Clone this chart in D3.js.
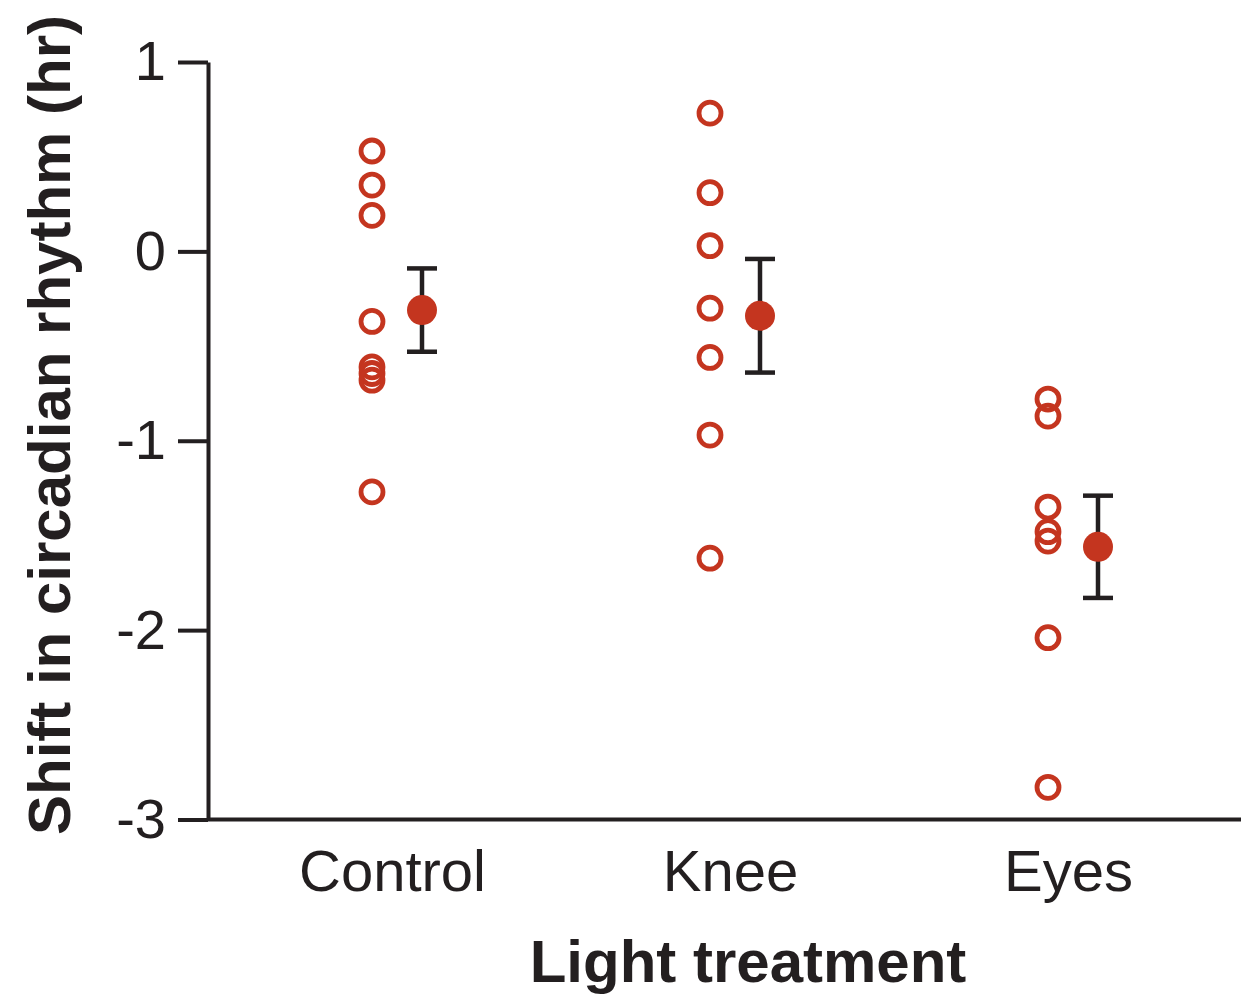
<!DOCTYPE html>
<html>
<head>
<meta charset="utf-8">
<script src="https://cdn.jsdelivr.net/npm/d3@7"></script>
<style>
  body { margin: 0; background: #fff; }
  svg { display: block; font-family: "Liberation Sans", Arial, sans-serif; }
</style>
</head>
<body>
<div id="chart"></div>
<script>
// data
const categories = ['Control', 'Knee', 'Eyes'];
const controlShifts = [0.53, 0.35, 0.19, -0.37, -0.61, -0.645, -0.68, -1.27];
const kneeShifts = [0.73, 0.31, 0.03, -0.30, -0.56, -0.97, -1.62];
const eyesShifts = [-0.78, -0.87, -1.35, -1.48, -1.53, -2.04, -2.83];
const means = [-0.31, -0.34, -1.56];
const sems = [0.22, 0.30, 0.27];
const yTicks = [1, 0, -1, -2, -3];

const W = 1249, H = 996;
const red = '#c4351f';
const ink = '#231f20';

const svg = d3.select('#chart').append('svg')
  .attr('width', W)
  .attr('height', H);

const y = d3.scaleLinear().domain([-3, 1]).range([819.5, 62]);
const x = d3.scalePoint().domain(categories).range([397, 1073]);
const axisX = 208;

// y axis
const yAxis = svg.append('g')
  .attr('transform', `translate(${axisX},0)`)
  .call(d3.axisLeft(y).tickValues(yTicks).tickFormat(d3.format('d'))
    .tickSize(30).tickSizeOuter(0).tickPadding(12));
yAxis.select('.domain').attr('stroke', ink).attr('stroke-width', 4);
yAxis.selectAll('.tick line').attr('stroke', ink).attr('stroke-width', 4);
yAxis.selectAll('.tick text')
  .attr('fill', ink)
  .attr('font-size', 56)
  .attr('font-family', '"Liberation Sans", Arial, sans-serif')
  .text(d => d < 0 ? '-' + Math.abs(d) : d);

// baseline
svg.append('line')
  .attr('x1', axisX).attr('x2', 1241)
  .attr('y1', y(-3)).attr('y2', y(-3))
  .attr('stroke', ink).attr('stroke-width', 4);

// x category labels
const xAxis = svg.append('g')
  .attr('transform', `translate(-5,${y(-3)})`)
  .call(d3.axisBottom(x).tickSize(0).tickPadding(30));
xAxis.select('.domain').remove();
xAxis.selectAll('.tick text')
  .attr('fill', ink)
  .attr('font-size', 58)
  .attr('font-family', '"Liberation Sans", Arial, sans-serif');

// axis titles
svg.append('text')
  .attr('x', 748).attr('y', 982)
  .attr('text-anchor', 'middle')
  .attr('font-size', 60)
  .attr('font-weight', 'bold')
  .attr('fill', ink)
  .text('Light treatment');

svg.append('text')
  .attr('transform', 'translate(70,425) rotate(-90)')
  .attr('text-anchor', 'middle')
  .attr('font-size', 60)
  .attr('font-weight', 'bold')
  .attr('fill', ink)
  .text('Shift in circadian rhythm (hr)');

// individual points
const groups = [controlShifts, kneeShifts, eyesShifts];
const pointOffset = -25, meanOffset = 25;

groups.forEach((vals, i) => {
  svg.append('g').selectAll('circle')
    .data(vals)
    .join('circle')
    .attr('cx', x(categories[i]) + pointOffset)
    .attr('cy', d => y(d))
    .attr('r', 11)
    .attr('fill', 'none')
    .attr('stroke', red)
    .attr('stroke-width', 4.8);
});

// means with error bars
const summary = categories.map((c, i) => ({ cat: c, mean: means[i], sem: sems[i] }));
const eb = svg.append('g').selectAll('g')
  .data(summary)
  .join('g')
  .attr('transform', d => `translate(${x(d.cat) + meanOffset},0)`);

eb.append('line')
  .attr('y1', d => y(d.mean + d.sem))
  .attr('y2', d => y(d.mean - d.sem))
  .attr('stroke', ink).attr('stroke-width', 4.5);
eb.append('line')
  .attr('x1', -15).attr('x2', 15)
  .attr('y1', d => y(d.mean + d.sem)).attr('y2', d => y(d.mean + d.sem))
  .attr('stroke', ink).attr('stroke-width', 4.5);
eb.append('line')
  .attr('x1', -15).attr('x2', 15)
  .attr('y1', d => y(d.mean - d.sem)).attr('y2', d => y(d.mean - d.sem))
  .attr('stroke', ink).attr('stroke-width', 4.5);
eb.append('circle')
  .attr('cy', d => y(d.mean))
  .attr('r', 15)
  .attr('fill', red);
</script>
</body>
</html>
